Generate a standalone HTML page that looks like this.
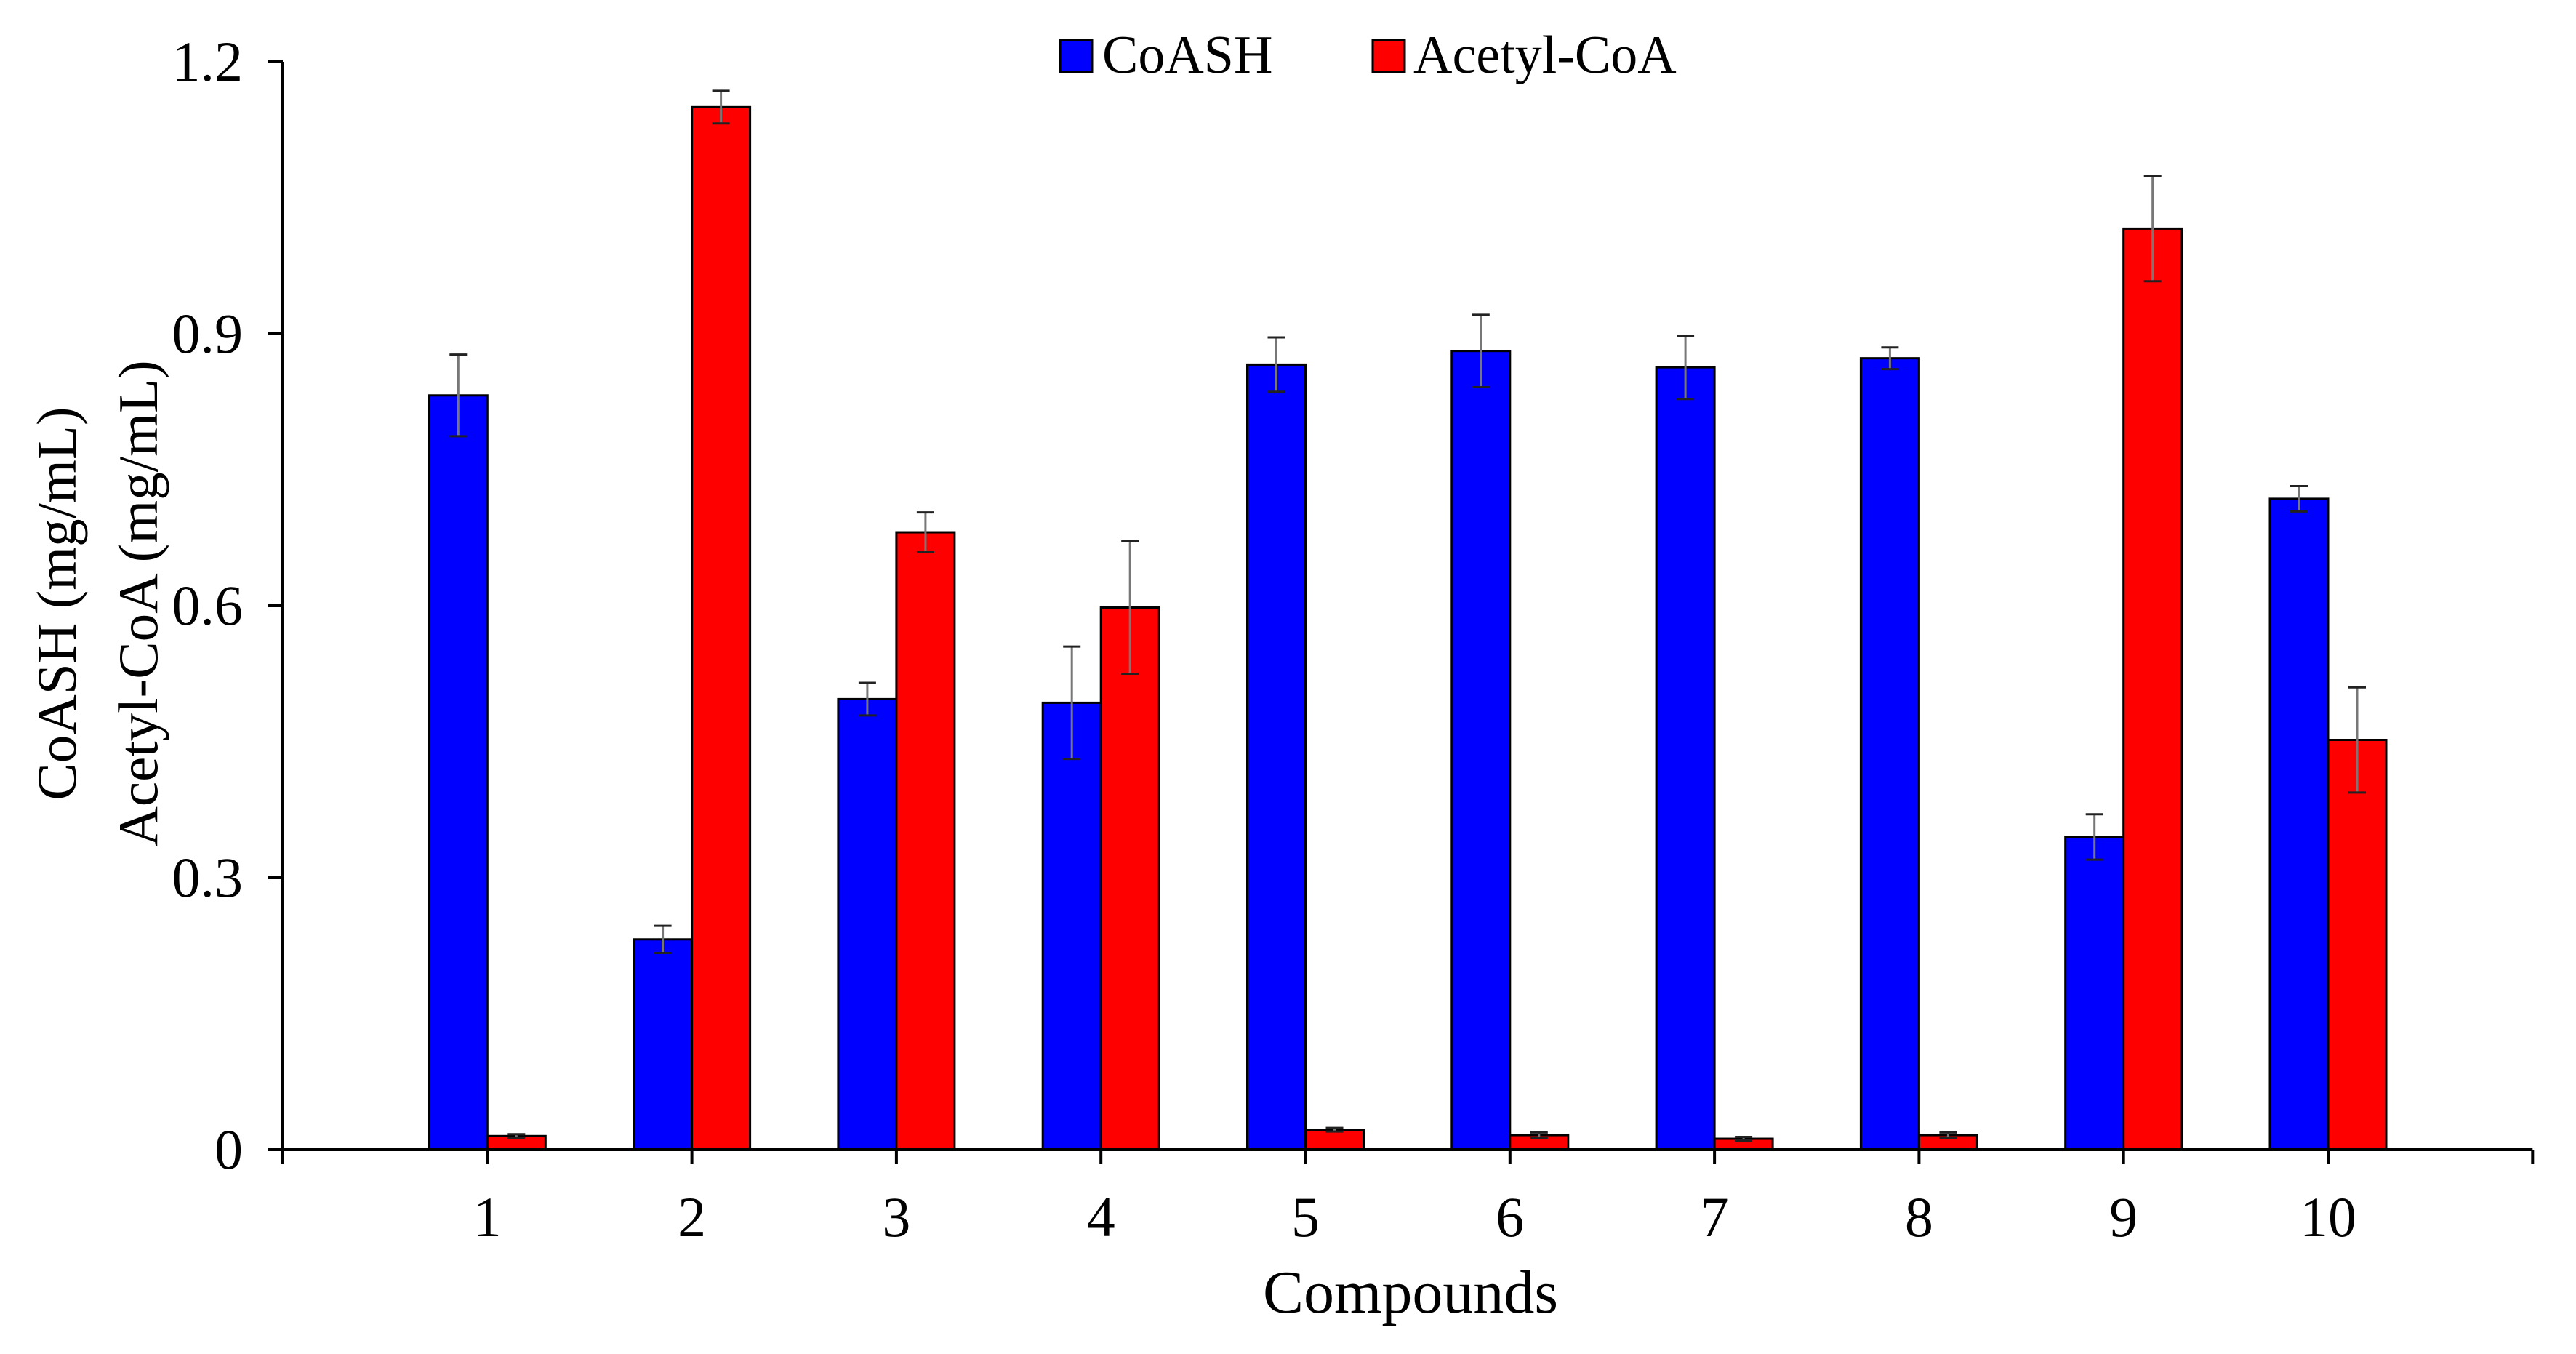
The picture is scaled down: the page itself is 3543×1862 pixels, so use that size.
<!DOCTYPE html>
<html><head><meta charset="utf-8"><style>
body{margin:0;background:#fff}
svg text{font-family:"Liberation Serif",serif;fill:#000}
</style></head><body>
<svg id="chart" width="3543" height="1857" xmlns="http://www.w3.org/2000/svg">
<g id="legend">
<rect x="1458" y="55" width="44" height="44" fill="#0000ff" stroke="#000" stroke-width="3"/>
<text x="1516" y="100" font-size="74">CoASH</text>
<rect x="1888" y="55" width="44" height="44" fill="#ff0000" stroke="#000" stroke-width="3"/>
<text x="1944" y="100" font-size="74">Acetyl-CoA</text>
</g>
<g>
<text transform="translate(104,830) rotate(-90)" text-anchor="middle" font-size="77">CoASH (mg/mL)</text>
<text transform="translate(216,830) rotate(-90)" text-anchor="middle" font-size="77">Acetyl-CoA (mg/mL)</text>
</g>
<text x="1940" y="1805" text-anchor="middle" font-size="84">Compounds</text>
</svg>
<script>
const categories=["1","2","3","4","5","6","7","8","9","10"];
const coash=[0.832,0.232,0.497,0.493,0.866,0.881,0.863,0.873,0.345,0.718];
const coashErr=[0.045,0.015,0.018,0.062,0.030,0.040,0.035,0.012,0.025,0.014];
const acetyl=[0.015,1.15,0.681,0.598,0.022,0.016,0.012,0.016,1.016,0.452];
const acetylErr=[0.002,0.018,0.022,0.073,0.002,0.003,0.002,0.003,0.058,0.058];
const yTicks=[0,0.3,0.6,0.9,1.2];
const yTickLabels=["0","0.3","0.6","0.9","1.2"];

const NS="http://www.w3.org/2000/svg";
const svg=document.getElementById('chart');
const X0=389,STEP=281.3,Y0=1581,YTOP=85,YMAX=1.2,BW=80;
const xPos=i=>X0+STEP*(i+1);
const yPos=v=>Y0-(v/YMAX)*(Y0-YTOP);
function mk(tag,attrs){const e=document.createElementNS(NS,tag);for(const k in attrs)e.setAttribute(k,attrs[k]);svg.appendChild(e);return e;}

categories.forEach((c,i)=>{
  const cx=xPos(i);
  let b=mk('rect',{x:cx-BW,y:yPos(coash[i]),width:BW,height:Y0-yPos(coash[i]),fill:'#0000ff',stroke:'#000','stroke-width':3});
  
  
  let r=mk('rect',{x:cx,y:yPos(acetyl[i]),width:BW,height:Y0-yPos(acetyl[i]),fill:'#ff0000',stroke:'#000','stroke-width':3});
  
  
});
function err(x,v,e,name){
  const t=yPos(v+e),bo=yPos(v-e);
  let l=mk('line',{x1:x,x2:x,y1:t,y2:bo,stroke:'#777','stroke-width':3});
  
  
  mk('line',{x1:x-12,x2:x+12,y1:t,y2:t,stroke:'#222','stroke-width':3});
  mk('line',{x1:x-12,x2:x+12,y1:bo,y2:bo,stroke:'#222','stroke-width':3});
}
categories.forEach((c,i)=>{
  err(xPos(i)-BW/2,coash[i],coashErr[i],'error-bar-coash-'+c);
  err(xPos(i)+BW/2,acetyl[i],acetylErr[i],'error-bar-acetylcoa-'+c);
});
let ya=mk('line',{x1:X0,x2:X0,y1:YTOP,y2:Y0+20,stroke:'#000','stroke-width':4});


let xa=mk('line',{x1:X0,x2:X0+STEP*11,y1:Y0,y2:Y0,stroke:'#000','stroke-width':4});


mk('line',{x1:X0+STEP*11,x2:X0+STEP*11,y1:Y0,y2:Y0+20,stroke:'#000','stroke-width':4});
yTicks.forEach((v,i)=>{
  mk('line',{x1:X0-20,x2:X0,y1:yPos(v),y2:yPos(v),stroke:'#000','stroke-width':4});
  let t=mk('text',{x:X0-55,y:yPos(v)+26,'text-anchor':'end','font-size':78});
  t.textContent=yTickLabels[i];
  
  
});
categories.forEach((c,i)=>{
  mk('line',{x1:xPos(i),x2:xPos(i),y1:Y0,y2:Y0+20,stroke:'#000','stroke-width':4});
  let t=mk('text',{x:xPos(i),y:1700,'text-anchor':'middle','font-size':78});
  t.textContent=c;
  
  
});
</script>
</body></html>
